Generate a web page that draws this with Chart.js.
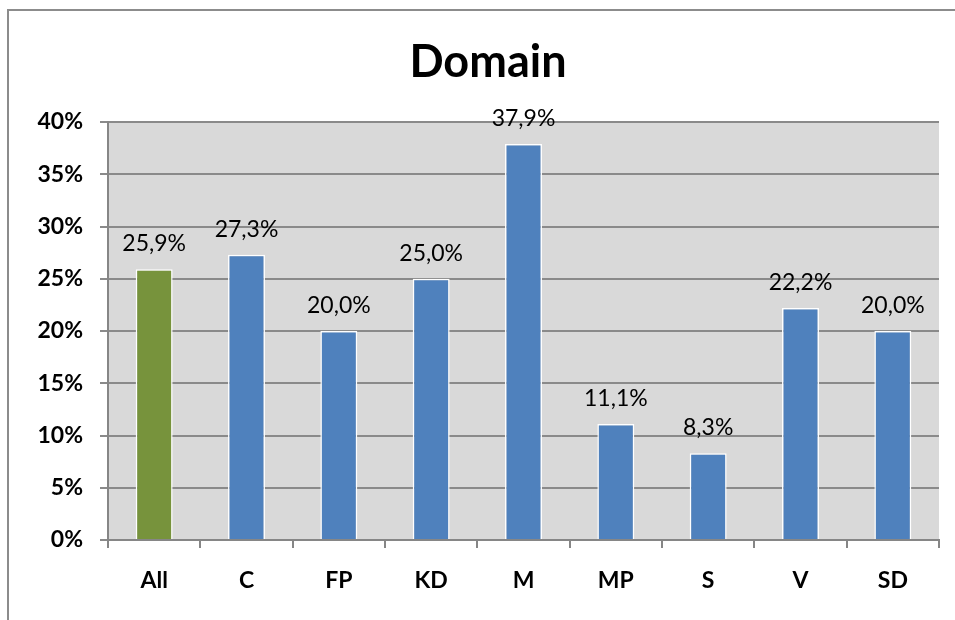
<!DOCTYPE html>
<html>
<head>
<meta charset="utf-8">
<script src="https://cdn.jsdelivr.net/npm/chart.js@4"></script>
<style>
  html, body { margin: 0; padding: 0; background: #fff; }
  #wrap { position: relative; width: 955px; height: 620px; overflow: hidden; }
  #cadre { position: absolute; left: 7px; top: 9px; width: 1000px; height: 1000px; border: 2px solid #8c8c8c; }
  canvas { position: absolute; left: 0; top: 0; }
</style>
</head>
<body>
<div id="wrap">
  <div id="cadre"></div>
  <canvas id="chart1" width="955" height="620"></canvas>
</div>
<script>
// donnees
const categories = ["All", "C", "FP", "KD", "M", "MP", "S", "V", "SD"];
const valeurs = [25.9, 27.3, 20.0, 25.0, 37.9, 11.1, 8.3, 22.2, 20.0];
const couleurs = ["#77933c", "#4f81bd", "#4f81bd", "#4f81bd", "#4f81bd", "#4f81bd", "#4f81bd", "#4f81bd", "#4f81bd"];
const yTicks = [0, 5, 10, 15, 20, 25, 30, 35, 40];

const police = "Lato, 'Open Sans', sans-serif";

// fond gris de la zone de tracé
const fondGris = {
	id: 'fondGris',
	beforeDraw(chart) {
		const a = chart.chartArea;
		const ctx = chart.ctx;
		ctx.save();
		ctx.fillStyle = '#d9d9d9';
		ctx.fillRect(a.left, a.top, a.right - a.left, a.bottom - a.top);
		ctx.restore();
	}
};

// étiquettes au dessus des barres, virgule décimale
const etiquettes = {
	id: 'etiquettes',
	afterDatasetsDraw(chart) {
		const ctx = chart.ctx;
		const meta = chart.getDatasetMeta(0);
		ctx.save();
		ctx.font = '23px ' + police;
		ctx.fillStyle = '#000';
		ctx.textAlign = 'center';
		ctx.textBaseline = 'bottom';
		meta.data.forEach(function(bar, i) {
			const txt = valeurs[i].toFixed(1).replace('.', ',') + '%';
			ctx.fillText(txt, bar.x, bar.y - 14);
		});
		ctx.restore();
	}
};

const ctx1 = document.getElementById('chart1');

new Chart(ctx1, {
	type: 'bar',
	data: {
		labels: categories,
		datasets: [
			{
				data: valeurs,
				backgroundColor: couleurs,
				borderColor: '#ffffff',
				borderWidth: 1.5,
				categoryPercentage: 1,
				barPercentage: 0.4,
			},
		]
	},
	options: {
		responsive: false,
		animation: false,
		layout: { padding: { left: 37, right: 16, top: 0, bottom: 0 } },
		plugins: {
			legend: { display: false },
			tooltip: { enabled: false },
			title: {
				display: true,
				text: 'Domain',
				color: '#000',
				font: { family: police, size: 45, weight: 'bold' },
				padding: { top: 35, bottom: 33 }
			},
		},
		scales: {
			x: {
				offset: true,
				grid: {
					offset: true,
					drawOnChartArea: false,
					drawTicks: true,
					tickLength: 8,
					color: '#868686',
					lineWidth: 2
				},
				border: { color: '#868686', width: 2 },
				ticks: {
					color: '#000',
					padding: 19,
					font: { family: police, size: 23, weight: 'bold' }
				},
				afterFit(scale) { scale.height = 80; }
			},
			y: {
				min: 0,
				max: 40,
				afterBuildTicks(scale) {
					scale.ticks = yTicks.map(function(v) { return { value: v }; });
				},
				grid: {
					color: '#8a8a8a',
					lineWidth: 2,
					tickLength: 8
				},
				border: { color: '#868686', width: 2 },
				ticks: {
					color: '#000',
					padding: 17,
					font: { family: police, size: 23, weight: 'bold' },
					callback: function(v) { return v + '%'; }
				},
				afterFit(scale) { scale.width = 71; }
			}
		}
	},
	plugins: [fondGris, etiquettes]
});
</script>
</body>
</html>
